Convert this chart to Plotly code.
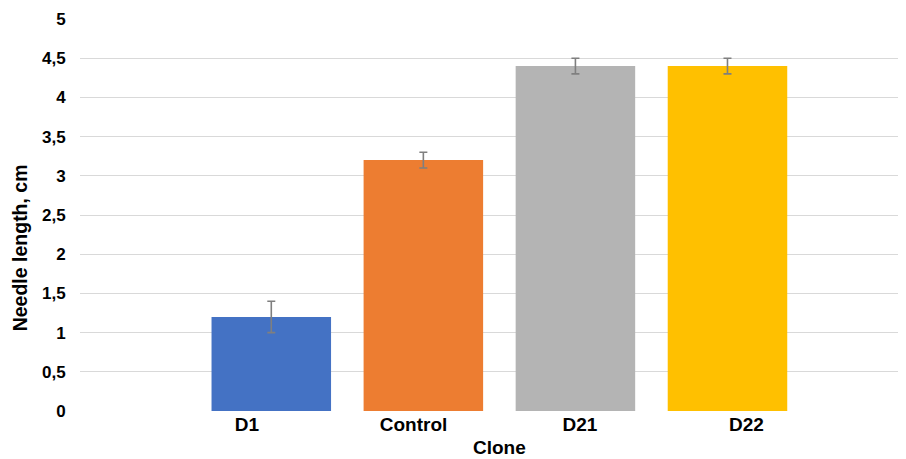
import plotly.graph_objects as go

categories = ["D1", "Control", "D21", "D22"]
values = [1.2, 3.2, 4.4, 4.4]
errors = [0.2, 0.1, 0.1, 0.1]
colors = ["#4472C4", "#ED7D31", "#B4B4B4", "#FFC000"]
y_ticks = [0, 0.5, 1, 1.5, 2, 2.5, 3, 3.5, 4, 4.5, 5]

FONT = "Liberation Sans, Arial, sans-serif"

fig = go.Figure()
fig.add_trace(go.Bar(
    x=categories, y=values,
    marker=dict(color=colors, line=dict(width=0)),
    width=0.786,
    error_y=dict(type="data", array=errors, visible=True,
                 color="#7F7F7F", thickness=1.6, width=4),
    showlegend=False,
))
# invisible trace carrying the category labels on the label axis
fig.add_trace(go.Scatter(
    x=list(range(len(categories))), y=[None] * len(categories),
    xaxis="x2", mode="markers", showlegend=False, hoverinfo="skip",
))

# the page body has an 8px margin, so the figure is sized to fill the window
fig.update_layout(
    width=898, height=451,
    margin=dict(l=72, r=0, t=11, b=48),
    paper_bgcolor="white", plot_bgcolor="white",
    separators=", ",
    font=dict(family=FONT, color="#000000"),
    xaxis=dict(
        type="category", range=[-1.258, 4.174],
        showticklabels=False, showgrid=False, zeroline=False, showline=False,
        fixedrange=True,
    ),
    xaxis2=dict(
        overlaying="x", anchor="y", side="bottom",
        type="linear", range=[-1.003, 3.958],
        tickmode="array", tickvals=list(range(len(categories))), ticktext=categories,
        tickfont=dict(family=FONT, size=19, weight="bold", color="#000000"),
        showgrid=False, zeroline=False, showline=False, ticks="",
    ),
    yaxis=dict(
        range=[0, 5], tickmode="array", tickvals=y_ticks,
        tickfont=dict(family=FONT, size=17, weight="bold", color="#000000"),
        showgrid=True, gridcolor="#D9D9D9", gridwidth=1.3,
        zeroline=False, showline=False,
        ticks="outside", ticklen=10, tickcolor="rgba(0,0,0,0)",
    ),
    annotations=[
        dict(text="Needle length, cm", xref="paper", yref="paper",
             x=0, xshift=-60, y=0.415, xanchor="center", yanchor="middle",
             textangle=-90, showarrow=False,
             font=dict(family=FONT, size=19.5, weight="bold", color="#000000")),
        dict(text="Clone", xref="paper", yref="paper",
             x=0.508, y=-0.092, xanchor="center", yanchor="middle",
             showarrow=False,
             font=dict(family=FONT, size=19, weight="bold", color="#000000")),
    ],
)

fig.write_html("out.html")
